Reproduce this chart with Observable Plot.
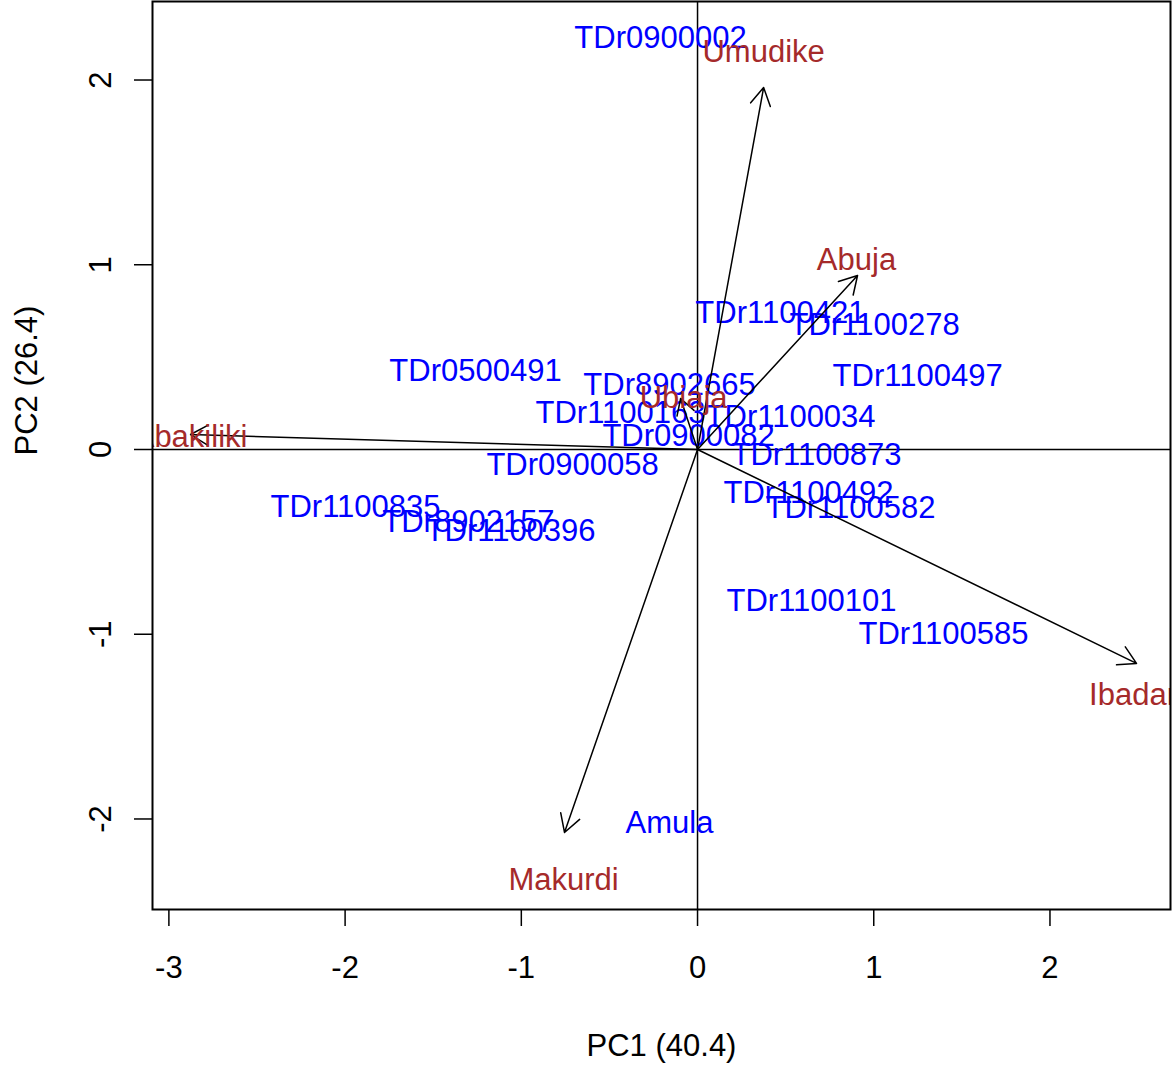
<!DOCTYPE html>
<html>
<head>
<meta charset="utf-8">
<script src="https://cdn.jsdelivr.net/npm/d3@7"></script>
<script src="https://cdn.jsdelivr.net/npm/@observablehq/plot@0.6"></script>
<style>
  html, body { margin: 0; padding: 0; background: #fff; }
  #chart { width: 1172px; height: 1066px; }
</style>
</head>
<body>
<div id="chart"></div>
<script>
// Genotype scores on the first two principal components
const genotypes = [
  "TDr0900002", "TDr1100421", "TDr1100278", "TDr1100497", "TDr0500491",
  "TDr8902665", "TDr1100163", "TDr1100034", "TDr0900082", "TDr0900058",
  "TDr1100873", "TDr1100835", "TDr8902157", "TDr1100396", "TDr1100492",
  "TDr1100582", "TDr1100101", "TDr1100585", "Amula"
];
const genoPC1 = [
  -0.21, 0.47, 1.005, 1.249, -1.26,
  -0.159, -0.437, 0.528, -0.051, -0.709,
  0.675, -1.941, -1.30, -1.061, 0.630,
  0.868, 0.647, 1.396, -0.159
];
const genoPC2 = [
  2.225, 0.736, 0.671, 0.40, 0.422,
  0.346, 0.195, 0.173, 0.070, -0.087,
  -0.032, -0.314, -0.395, -0.444, -0.238,
  -0.319, -0.823, -1.001, -2.024
];

// Environment (site) loadings: arrow tips and label positions
const sites = ["Umudike", "Abuja", "Ubiaja", "Abakiliki", "Ibadan", "Makurdi"];
const siteArrowPC1 = [0.375, 0.908, -0.096, -2.877, 2.491, -0.755];
const siteArrowPC2 = [1.959, 0.942, 0.276, 0.081, -1.158, -2.073];
const siteLabelPC1 = [0.375, 0.902, -0.079, -2.877, 2.491, -0.760];
const siteLabelPC2 = [2.149, 1.028, 0.281, 0.065, -1.332, -2.333];

const xTicks = [-3, -2, -1, 0, 1, 2];
const yTicks = [-2, -1, 0, 1, 2];
const xTitle = "PC1 (40.4)";
const yTitle = "PC2 (26.4)";

const genoRows = genotypes.map((name, i) => ({ name, pc1: genoPC1[i], pc2: genoPC2[i] }));
const siteRows = sites.map((name, i) => ({
  name,
  ax: siteArrowPC1[i], ay: siteArrowPC2[i],
  lx: siteLabelPC1[i], ly: siteLabelPC2[i]
}));

const font = "'Liberation Sans', Arial, Helvetica, sans-serif";

const chart = Plot.plot({
  width: 1172,
  height: 1066,
  marginLeft: 152,
  marginRight: 2,
  marginTop: 1,
  marginBottom: 157,
  style: { fontFamily: font, fontSize: "31px", background: "#fff", color: "#000" },
  x: { domain: [-3.093, 2.684], label: null },
  y: { domain: [-2.49, 2.425], label: null },
  marks: [
    Plot.ruleX([0], { stroke: "#000", strokeWidth: 1.5 }),
    Plot.ruleY([0], { stroke: "#000", strokeWidth: 1.5 }),
    Plot.text(genoRows, {
      x: "pc1", y: "pc2", text: "name",
      fill: "#0000ff", fontSize: 31, clip: true
    }),
    Plot.arrow(siteRows, {
      x1: () => 0, y1: () => 0, x2: "ax", y2: "ay",
      stroke: "#000", strokeWidth: 1.5, headLength: 20, headAngle: 60
    }),
    Plot.text(siteRows, {
      x: "lx", y: "ly", text: "name",
      fill: "#a52a2a", fontSize: 31, clip: true
    }),
    Plot.frame({ stroke: "#000", strokeWidth: 2 }),
    Plot.axisX({
      ticks: xTicks, tickSize: 17, tickPadding: 29,
      tickFormat: (d) => String(d), fontSize: 31, strokeWidth: 1.5, label: null
    }),
    Plot.axisY({
      ticks: yTicks, tickSize: 18, tickPadding: 24, tickRotate: -90,
      tickFormat: (d) => String(d), fontSize: 31, strokeWidth: 1.5, label: null
    }),
    Plot.text([xTitle], {
      frameAnchor: "bottom", dy: 146, lineAnchor: "bottom",
      text: (d) => d, fontSize: 31, fill: "#000"
    }),
    Plot.text([yTitle], {
      frameAnchor: "left", dx: -125, rotate: -90,
      text: (d) => d, fontSize: 31, fill: "#000"
    })
  ]
});

document.getElementById("chart").appendChild(chart);
</script>
</body>
</html>
